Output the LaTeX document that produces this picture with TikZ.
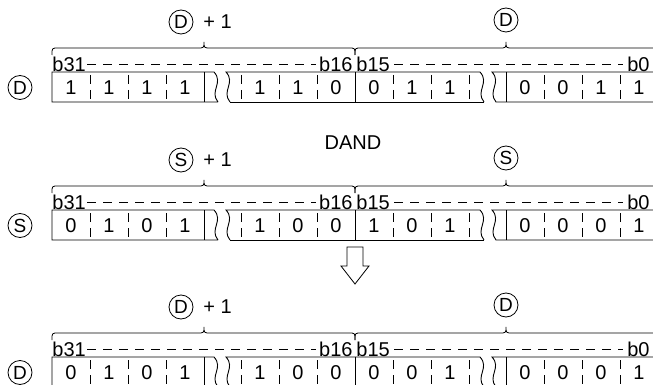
\documentclass[tikz,border=0pt]{standalone}
\usepackage{fontspec}
\setmainfont{Liberation Sans}
\begin{document}
\begin{tikzpicture}[x=1pt,y=-1pt,line width=0.9pt,
  txt/.style={font=\fontsize{20}{22}\selectfont,inner sep=0pt},
  circ/.style={draw,circle,minimum size=24pt,inner sep=0pt,line width=0.8pt,font=\fontsize{19}{20}\selectfont},
  sepline/.style={line width=0.8pt,dash pattern=on 0pt off 3pt on 9pt off 6pt on 9pt off 3pt},
  bitdash/.style={line width=0.8pt,dash pattern=on 9pt off 7pt},
  bracestyle/.style={line width=0.8pt}]
\clip (0,0) rectangle (653,385);
\def\cellx{{71,109,147,185,260,298,336,374,412,450,525,563,601,639}}
\newcommand\wordrow[6]{%
  % #1 id, #2 top, #3 letter, #4 digits, #5 hi-label dy, #6 lo-label dy
  \pgfmathsetmacro\T{#2}
  \pgfmathsetmacro\B{#2+30}
  \pgfmathsetmacro\M{#2+15.5}
  \pgfmathsetmacro\Ya{#2+11}
  \pgfmathsetmacro\Yb{#2+19}
  \pgfmathsetmacro\Y{#2-24}
  % box pieces
  \draw (218,\B) -- (52,\B) -- (52,\T) -- (214,\T) .. controls (224,\Ya) and (209,\Yb) .. (218,\B);
  \draw (204,\T) -- (204,\B);
  \draw (230,\B) -- (484,\B);
  \draw (480,\T) -- (226,\T) .. controls (236,\Ya) and (221,\Yb) .. (230,\B);
  \draw (480,\T) .. controls (490,\Ya) and (475,\Yb) .. (484,\B);
  \draw (355,\T) -- (355,\B);
  \draw (660,\T) -- (492,\T) .. controls (502,\Ya) and (487,\Yb) .. (496,\B) -- (660,\B);
  \draw (506,\T) -- (506,\B);
  \foreach \sx in {90,128,166,241,279,317,393,431,469,544,582,620}
    \draw[sepline] (\sx,\T) -- (\sx,\B);
  \foreach \d [count=\i] in {#4} {
    \pgfmathsetmacro\cx{\cellx[\i-1]}
    \node[txt] (#1d\i) at (\cx,\M) {\d};
  }
  % row letter
  \node[circ] (#1L) at (20,\M) {#3};
  % bit labels
  \node[txt,anchor=west] (#1b31) at (52,\T-8) {b31};
  \node[txt,anchor=east] (#1b16) at (353,\T-8) {b16};
  \node[txt,anchor=west] (#1b15) at (356,\T-8) {b15};
  \node[txt,anchor=east] (#1b0) at (650,\T-8) {b0};
  \draw[bitdash] ([xshift=1pt]#1b31.east) -- ([xshift=-3pt]#1b16.west);
  \draw[bitdash] ([xshift=4pt]#1b15.east) -- ([xshift=-4pt]#1b0.west);
  % braces
  \draw[bracestyle] (52,\Y+7) .. controls (52,\Y) .. (58,\Y) -- (197,\Y)
     .. controls (204,\Y) .. (204,\Y-6) .. controls (204,\Y) .. (211,\Y)
     -- (349,\Y) .. controls (355,\Y) .. (355,\Y+7);
  \draw[bracestyle] (355,\Y+7) .. controls (355,\Y) .. (361,\Y) -- (499,\Y)
     .. controls (506,\Y) .. (506,\Y-6) .. controls (506,\Y) .. (513,\Y)
     -- (652,\Y) .. controls (658,\Y) .. (658,\Y+7);
  % word labels
  \node[circ] (#1hi) at (181,\T-#5) {#3};
  \node[txt,anchor=west] (#1plus) at (203,\T-#5) {+ 1};
  \node[circ] (#1lo) at (506,\T-#6) {#3};
}
\wordrow{ra}{72}{D}{1,1,1,1,1,1,0,0,1,1,0,0,1,1}{50}{52}
\wordrow{rb}{210}{S}{0,1,0,1,1,0,0,1,0,1,0,0,0,1}{50}{52}
\wordrow{rc}{357}{D}{0,1,0,1,1,0,0,0,0,1,0,0,0,1}{50}{52}
\node[txt] (op) at (353,143) {DAND};
\draw[line width=0.8pt] (347,247) -- (363,247) -- (363,266) -- (369,266) -- (355,284) -- (341,266) -- (347,266) -- cycle;
\end{tikzpicture}
\end{document}
